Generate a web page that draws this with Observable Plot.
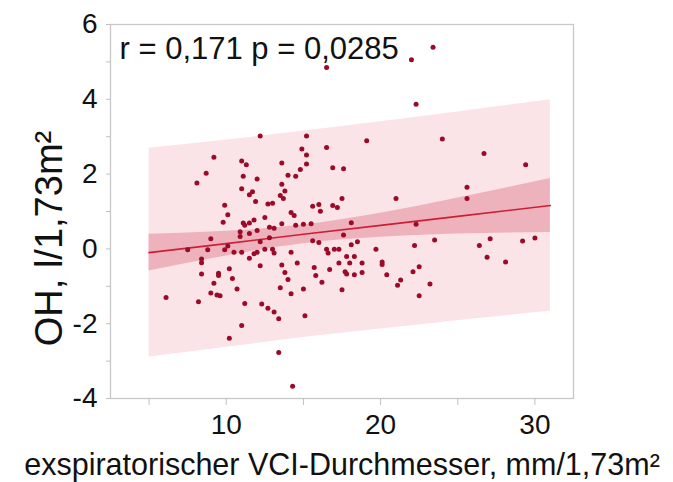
<!DOCTYPE html>
<html>
<head>
<meta charset="utf-8">
<script src="https://cdn.jsdelivr.net/npm/d3@7"></script>
<script src="https://cdn.jsdelivr.net/npm/@observablehq/plot@0.6"></script>
<style>
  html, body { margin: 0; padding: 0; background: #fff; }
  #chart svg { display: block; }
</style>
</head>
<body>
<div id="chart"></div>
<script>
// ---- data ----
const vciDiameter = [16.5,22.0,23.4,22.3,12.2,15.2,19.1,14.9,16.5,15.2,
  9.2,11.0,11.3,13.6,15.2,14.8,16.9,17.6,8.7,8.1,
  11.1,12.0,14.0,14.5,13.6,13.8,13.5,13.7,11.0,11.7,
  11.5,11.9,9.9,12.7,13.0,15.6,16.0,16.1,17.5,16.9,
  17.2,14.2,14.4,10.1,12.5,9.8,11.1,11.2,11.5,11.8,
  12.8,13.1,13.6,14.5,15.0,15.5,18.1,10.9,10.9,11.5,
  12.0,12.8,9.0,7.5,8.8,9.9,10.1,10.5,11.0,11.8,
  12.0,11.5,8.4,8.4,10.2,8.4,9.5,9.5,10.4,9.2,
  10.7,9.0,9.4,9.6,6.1,8.2,11.2,11.0,10.2,13.4,
  14.3,12.2,15.6,16.0,17.6,12.5,13.0,13.1,14.2,16.5,
  16.6,17.0,17.3,18.1,18.5,19.7,12.2,13.6,14.6,15.7,
  16.7,17.3,17.8,18.3,18.0,18.8,17.7,17.8,18.3,18.8,
  20.1,20.1,13.8,14.0,15.8,16.2,13.5,15.0,14.2,17.5,
  12.3,12.7,13.1,13.4,15.1,24.0,26.7,29.4,21.0,25.6,
  25.6,22.3,22.2,23.5,26.4,27.1,29.2,30.0,26.9,28.1,
  20.4,22.1,22.5,21.3,21.1,23.2,22.5];
const ohValues = [4.85,5.06,5.39,3.87,3.02,3.02,2.89,2.67,2.71,2.51,
  2.45,2.35,2.25,2.30,2.27,2.12,2.17,2.14,2.02,1.76,
  1.94,1.87,1.97,1.94,1.73,1.55,1.43,1.35,1.61,1.53,
  1.45,1.27,1.17,1.20,1.22,1.14,1.19,1.01,1.35,1.16,
  1.11,0.97,0.89,0.91,0.84,0.71,0.69,0.63,0.69,0.77,
  0.58,0.55,0.67,0.63,0.66,0.67,0.70,0.46,0.33,0.41,
  0.49,0.30,0.27,-0.02,-0.02,-0.02,0.08,-0.09,-0.09,-0.13,
  -0.09,-0.25,-0.27,-0.37,-0.53,-0.67,-0.65,-0.71,-0.79,-0.92,
  -1.07,-1.18,-1.23,-1.25,-1.30,-1.41,-1.46,-2.05,-2.39,-2.77,
  -3.67,0.19,0.22,0.17,0.37,-0.01,-0.01,-0.11,-0.09,-0.01,
  -0.11,-0.01,-0.01,0.11,0.19,-0.01,-0.45,-0.43,-0.38,-0.50,
  -0.55,-0.38,-0.20,-0.20,-0.38,-0.38,-0.61,-0.67,-0.69,-0.63,
  -0.35,-0.42,-0.63,-0.82,-0.71,-0.89,-1.04,-1.07,-1.20,-1.09,
  -1.47,-1.59,-1.69,-1.87,-1.79,2.94,2.55,2.25,1.35,1.65,
  1.35,0.66,0.09,0.24,0.09,0.27,0.21,0.29,-0.22,-0.35,
  -0.69,-0.61,-0.48,-0.83,-0.97,-0.94,-1.25];

// regression line and bands, read at these x positions
const bandX   = [5, 10, 15, 20, 25, 31];
const fitY    = [-0.10, 0.14, 0.39, 0.63, 0.87, 1.16];
const ciLow   = [-0.59, -0.19, 0.14, 0.31, 0.40, 0.44];
const ciHigh  = [0.39, 0.47, 0.64, 0.95, 1.36, 1.88];
const piLow   = [-2.89, -2.63, -2.37, -2.14, -1.92, -1.67];
const piHigh  = [2.69, 2.91, 3.15, 3.40, 3.66, 3.99];

const xTicks = [5, 10, 15, 20, 25, 30];
const xTickLabels = [10, 20, 30];
const yTicks = [-4, -3, -2, -1, 0, 1, 2, 3, 4, 5, 6];
const yTickLabels = [-4, -2, 0, 2, 4, 6];

const annotation = "r = 0,171 p = 0,0285";
const xTitle = "exspiratorischer VCI-Durchmesser, mm/1,73m²";
const yTitle = "OH, l/1,73m²";

// ---- tables ----
const points = vciDiameter.map((x, i) => ({x, y: ohValues[i]}));
const band = bandX.map((x, i) => ({x, fit: fitY[i], ciLo: ciLow[i], ciHi: ciHigh[i], piLo: piLow[i], piHi: piHigh[i]}));

const font = "'Liberation Sans', Arial, Helvetica, sans-serif";

const chart = Plot.plot({
  width: 673,
  height: 482,
  marginLeft: 110,
  marginRight: 100,
  marginTop: 24,
  marginBottom: 84,
  style: {fontFamily: font, fontSize: "28px", color: "#111", background: "#fff"},
  x: {domain: [2.5, 32.5]},
  y: {domain: [-4, 6]},
  marks: [
    Plot.areaY(band, {x: "x", y1: "piLo", y2: "piHi", fill: "#fbe4e7", curve: "natural"}),
    Plot.areaY(band, {x: "x", y1: "ciLo", y2: "ciHi", fill: "#eeb2bc", curve: "natural"}),
    Plot.line(band, {x: "x", y: "fit", stroke: "#cc1f36", strokeWidth: 1.6}),
    Plot.dot(points, {x: "x", y: "y", r: 2.5, fill: "#9c0a2a", stroke: "none"}),
    Plot.frame({stroke: "#c8c8c8", strokeWidth: 1.3}),
    Plot.axisX({ticks: xTicks, tickSize: 7, tickPadding: 9, stroke: "#c0c0c0", fill: "#111",
      tickFormat: d => xTickLabels.includes(d) ? String(d) : "", label: null, fontSize: 28}),
    Plot.axisY({ticks: yTicks, tickSize: 4, tickPadding: 9, stroke: "#c0c0c0", fill: "#111",
      tickFormat: d => yTickLabels.includes(d) ? String(d) : "", label: null, fontSize: 28}),
    Plot.text([annotation], {frameAnchor: "top-left", dx: 9, dy: 25, textAnchor: "start",
      lineAnchor: "middle", fontSize: 31, fill: "#111"}),
    Plot.text([yTitle], {frameAnchor: "left", dx: -61, dy: 27, rotate: -90, textAnchor: "middle",
      lineAnchor: "middle", fontSize: 38, fill: "#111"}),
    Plot.text([xTitle], {frameAnchor: "bottom", dy: 67, textAnchor: "middle", lineAnchor: "middle",
      fontSize: 30.5, fill: "#111"})
  ]
});

document.getElementById("chart").appendChild(chart);
</script>
</body>
</html>
